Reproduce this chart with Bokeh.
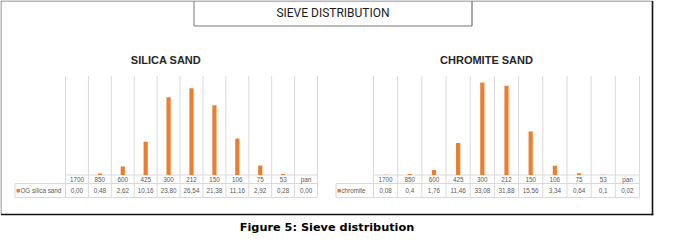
from bokeh.plotting import figure
from bokeh.models import Range1d
from bokeh.embed import file_html
from bokeh.resources import INLINE
from bokeh.core.properties import value

# ---------------- data ----------------
sieve_sizes = ["1700", "850", "600", "425", "300", "212", "150", "106", "75", "53", "pan"]
silica_pct = [0.00, 0.48, 2.62, 10.16, 23.80, 26.54, 21.38, 11.16, 2.92, 0.28, 0.00]
chromite_pct = [0.08, 0.4, 1.76, 11.46, 33.08, 31.88, 15.56, 3.34, 0.64, 0.1, 0.02]
silica_series = "OG silica sand"
chromite_series = "chromite"
silica_title = "SILICA SAND"
chromite_title = "CHROMITE SAND"
main_title = "SIEVE DISTRIBUTION"
caption_text = "Figure 5: Sieve distribution"
silica_ymax = 30
chromite_ymax = 35

# ---------------- layout (pixels of the page) ----------------
W, H = 664, 233
OX, OY = 8, 8
YBASE = 182.5
GRID_TOP = 83.5
ROW1 = 191.0
ROW2 = 205.0
HEAD_Y = 186.8
VAL_Y = 198.2
ORANGE = "#ED7D31"
GRID = "#D9D9D9"
TXT = "#595959"
SMALL_FONT = value("Liberation Sans")

p = figure(width=W, height=H, output_backend="svg", toolbar_location=None,
           x_range=Range1d(OX, OX + W), y_range=Range1d(OY + H, OY),
           x_axis_location=None, y_axis_location=None, min_border=0)
p.outline_line_color = None
p.grid.visible = False
p.background_fill_color = "white"
p.border_fill_color = "white"


def fmt2(v):
    return f"{v:.2f}".replace(".", ",")


def fmtg(v):
    return f"{v:g}".replace(".", ",")


def add_chart(name, cats, vals, ymax, x0, x1, ytop, title, title_x,
              series, legend_left, fmt):
    n = len(cats)
    cw = (x1 - x0) / n
    k = (YBASE - ytop) / ymax
    xr = name + "_x"
    yr = name + "_y"
    p.extra_x_ranges[xr] = Range1d((OX - x0) / cw, (OX + W - x0) / cw)
    p.extra_y_ranges[yr] = Range1d((YBASE - (OY + H)) / k, (YBASE - OY) / k)
    centers = [i + 0.5 for i in range(n)]
    bounds = list(range(n + 1))

    # vertical grid / table column lines
    p.segment(x0=bounds, x1=bounds, y0=[GRID_TOP] * (n + 1), y1=[ROW2] * (n + 1),
              x_range_name=xr, line_color=GRID, line_width=1)
    # axis line and table row lines
    p.segment(x0=[x0, legend_left, legend_left, legend_left],
              x1=[x1, x1, x1, legend_left],
              y0=[YBASE, ROW1, ROW2, ROW1], y1=[YBASE, ROW1, ROW2, ROW2],
              line_color=GRID, line_width=1)
    # bars
    p.vbar(x=centers, top=vals, bottom=0, width=4.2 / cw,
           x_range_name=xr, y_range_name=yr,
           fill_color=ORANGE, line_color=None)
    # table text
    p.text(x=centers, y=[HEAD_Y] * n, text=cats, x_range_name=xr,
           text_align="center", text_baseline="middle", text_font=SMALL_FONT,
           text_font_size="6.3px", text_color=TXT)
    p.text(x=centers, y=[VAL_Y] * n, text=[fmt(v) for v in vals], x_range_name=xr,
           text_align="center", text_baseline="middle", text_font=SMALL_FONT,
           text_font_size="6.3px", text_color=TXT)
    # legend key
    p.rect(x=[legend_left + 3.2], y=[VAL_Y], width=3.4, height=3.4,
           fill_color=ORANGE, line_color=None)
    p.text(x=[legend_left + 5.4], y=[VAL_Y], text=[series],
           text_align="left", text_baseline="middle", text_font=SMALL_FONT,
           text_font_size="6.3px", text_color=TXT)
    # chart title
    p.text(x=[title_x], y=[67], text=[title], text_align="center",
           text_baseline="middle", text_font=value("Liberation Sans"),
           text_font_style="bold", text_font_size="11px", text_color="#262626")


add_chart("si", sieve_sizes, silica_pct, silica_ymax, 73.0, 325.0, GRID_TOP + 1,
          silica_title, 173.5, silica_series, 22.5, fmt2)
add_chart("cr", sieve_sizes, chromite_pct, chromite_ymax, 381.0, 647.0, GRID_TOP + 1,
          chromite_title, 494.0, chromite_series, 343.5, fmtg)

# outer frame: light top/left, dark bottom/right
p.segment(x0=[8.5, 8.5], x1=[660, 8.5], y0=[8.5, 8.5], y1=[8.5, 222],
          line_color="#6E6E6E", line_width=1)
p.segment(x0=[660, 8.5], x1=[660, 660.8], y0=[8.5, 222], y1=[222.8, 222],
          line_color="#111111", line_width=1.6)

# title box
p.segment(x0=[201.5, 201.5], x1=[201.5, 479.5], y0=[8.5, 33.5], y1=[33.5, 33.5],
          line_color="#777777", line_width=1)
p.segment(x0=[479.5], x1=[479.5], y0=[8.5], y1=[33.5],
          line_color="#555555", line_width=1)
p.text(x=[340.5], y=[20.5], text=[main_title], text_align="center",
       text_baseline="middle", text_font=value("Roboto"),
       text_font_size="12px", text_color="#1A1A1A")

# caption
p.text(x=[334.5], y=[235.0], text=[caption_text], text_align="center",
       text_baseline="middle", text_font=value("DejaVu Sans"),
       text_font_style="bold", text_font_size="11.3px", text_color="#000000")

open("out.html", "w").write(file_html(p, INLINE))
